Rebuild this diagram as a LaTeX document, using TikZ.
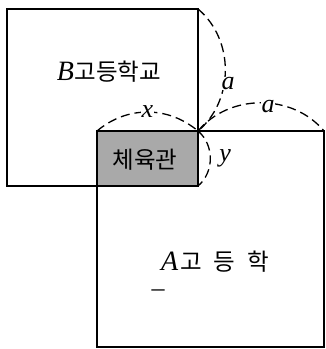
\documentclass[tikz,border=0pt]{standalone}
\usepackage{fontspec}
\newfontfamily\kr{Noto Sans CJK KR}
\newfontfamily\lat{Liberation Serif}
\usetikzlibrary{positioning}
\definecolor{gymgray}{HTML}{A9A9A9}
\newcommand{\var}[1]{{\lat\itshape\fontsize{28}{30}\selectfont #1}}

\begin{document}
\begin{tikzpicture}[x=1pt, y=1pt,
    box/.style={draw, line width=1.1pt, inner sep=0pt, outer sep=0pt, anchor=north west},
    arc/.style={dash pattern=on 9pt off 5pt, line width=1.3pt},
    lbl/.style={font=\lat\itshape\fontsize{26}{28}\selectfont, fill=white, inner sep=0.5pt},
    txt/.style={font=\kr\fontsize{23.5}{26}\selectfont, inner sep=0pt}
]
\useasboundingbox (0,0) rectangle (326,349);
% --- squares ---
\node[box, fill=gymgray, minimum width=101pt, minimum height=55pt] (gym) at (97,218) {};
\node[box, minimum width=191pt, minimum height=177pt] (B) at (7,340) {};
\node[box, minimum width=227pt, minimum height=216pt] (A) at (97,218) {};

% --- names ---
\node[txt] (Bname) at (109,277) {\var{B}\hspace{0.02em}고등학교};
\node[txt] (gymname) at (145,189) {체육관};
\node[txt] (Aname) at (215,87) {\var{A}\hspace{0.1em}고\hspace{0.5em}등\hspace{0.5em}학};
\node[txt] (Adash) at (158,56) {\lat\fontsize{26}{28}\selectfont –};

% --- arcs ---
\draw[arc] (B.north east) to[bend left=50] node[lbl, pos=0.6, xshift=4pt]{a} (gym.north east);
\draw[arc] (gym.north east) to[bend left=50] node[lbl, pos=0.55, yshift=-3pt]{a} (A.north east);
\draw[arc] (gym.north west) to[bend left=40] node[lbl]{x} (gym.north east);
\draw[arc] (gym.north east) to[bend left=50] node[lbl, right=8pt, fill=none]{y} (gym.south east);

\end{tikzpicture}
\end{document}
